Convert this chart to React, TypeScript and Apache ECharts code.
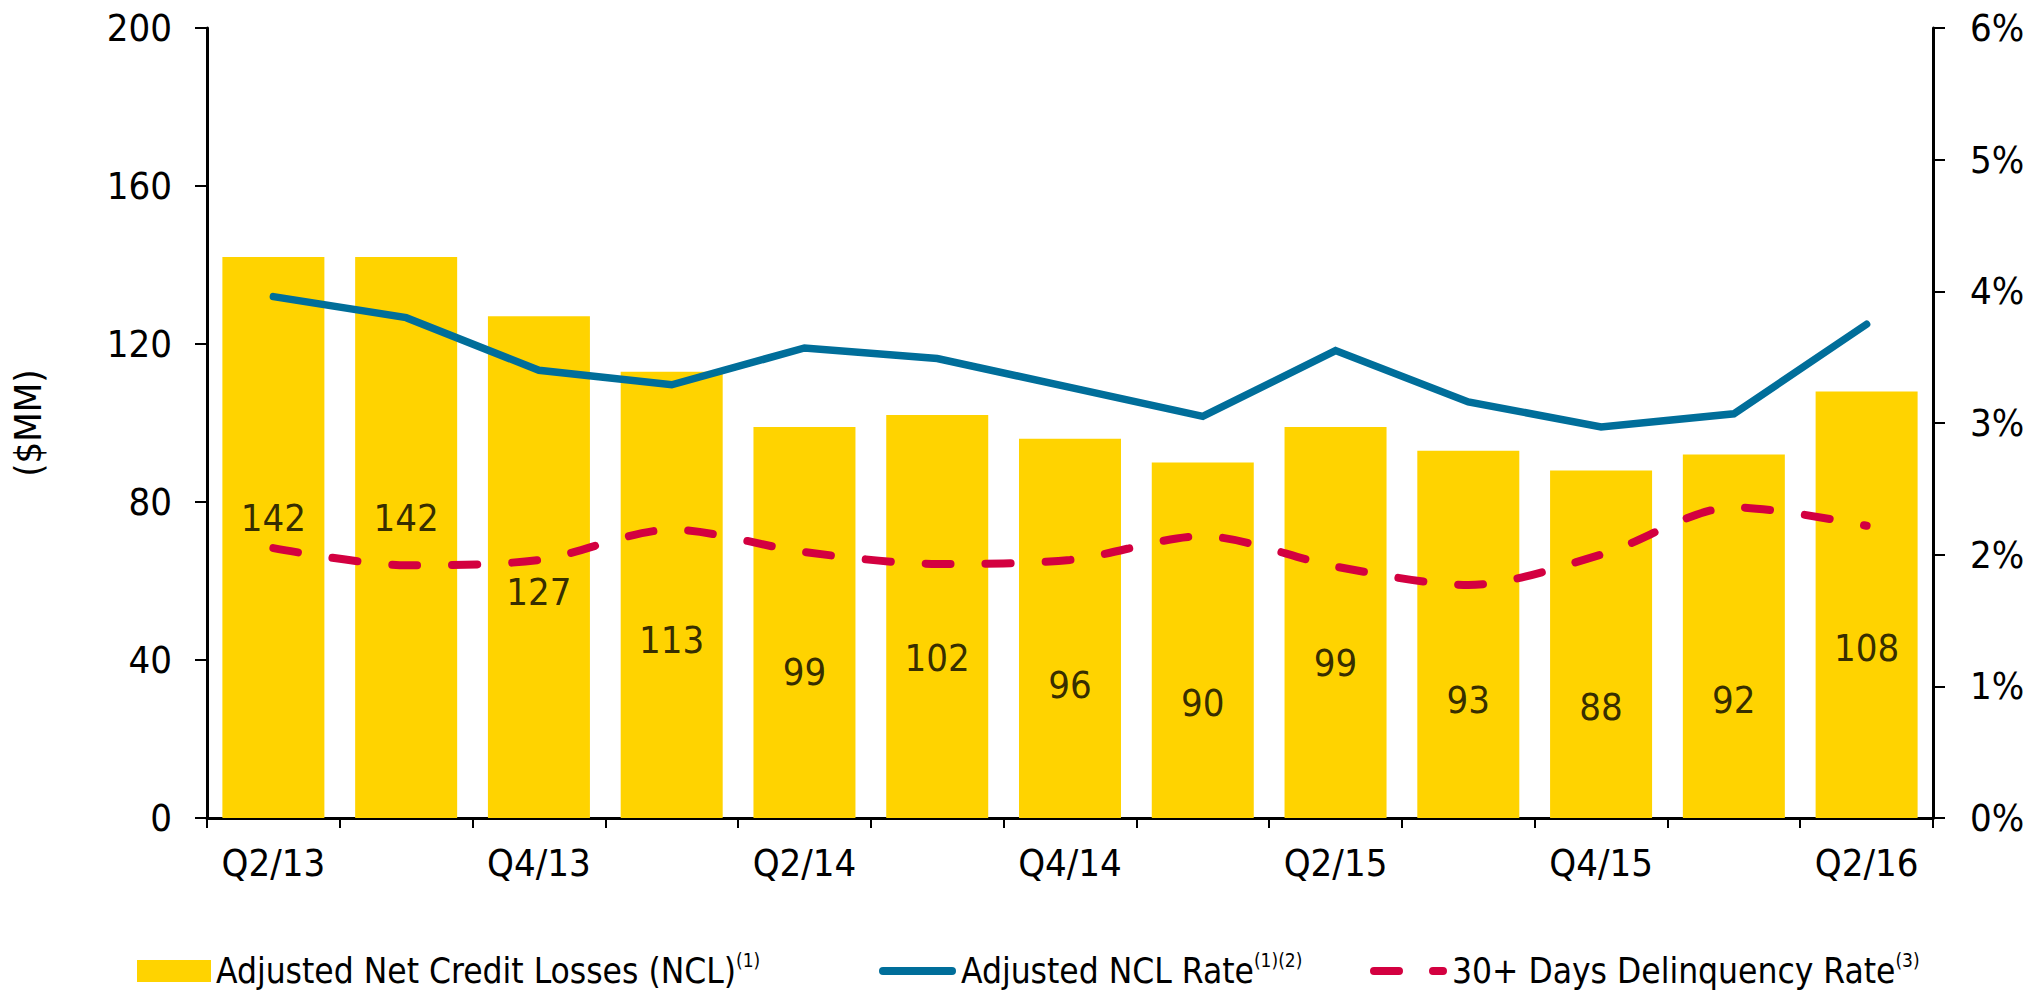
import React, { useEffect, useRef } from "react";
import * as echarts from "echarts";

const categories = ["Q2/13", "Q3/13", "Q4/13", "Q1/14", "Q2/14", "Q3/14", "Q4/14", "Q1/15", "Q2/15", "Q3/15", "Q4/15", "Q1/16", "Q2/16"];
const nclValues = [142, 142, 127, 113, 99, 102, 96, 90, 99, 93, 88, 92, 108];
const nclRate = [3.96, 3.8, 3.4, 3.29, 3.57, 3.49, 3.27, 3.05, 3.55, 3.16, 2.97, 3.07, 3.75];
const delinquencyRate = [2.05, 1.92, 1.96, 2.19, 2.02, 1.93, 1.96, 2.14, 1.91, 1.77, 2.0, 2.36, 2.22];
// value-axis height at which each bar's value label sits
const labelAnchors = [75.9, 75.9, 57.3, 45.1, 37.0, 40.4, 33.7, 29.0, 39.2, 29.9, 28.2, 29.9, 43.0];
const leftTicks = { min: 0, max: 200, interval: 40 };
const rightTicks = { min: 0, max: 6, interval: 1 };

const NAME_NCL = "Adjusted Net Credit Losses (NCL)";
const NAME_RATE = "Adjusted NCL Rate";
const NAME_DELQ = "30+ Days Delinquency Rate";

const FONT = "'DejaVu Sans Condensed', 'DejaVu Sans', sans-serif";
const YELLOW = "#FFD300";
const BLUE = "#006E9A";
const RED = "#D30040";

const ICON_SOLID = "path://M4,0 H73 A4,4 0 0 1 73,8 H4 A4,4 0 0 1 4,0 Z";
const ICON_DASHED = "path://M4,0 H29 A4,4 0 0 1 29,8 H4 A4,4 0 0 1 4,0 Z M63,0 H73 A4,4 0 0 1 73,8 H63 A4,4 0 0 1 63,0 Z";

const rich = {
  m: { fontSize: 35, fontFamily: FONT, color: "#000", lineHeight: 42, verticalAlign: "middle" },
  s: { fontSize: 19, fontFamily: FONT, color: "#000", lineHeight: 20, verticalAlign: "top" },
};

export default function App() {
  const ref = useRef<HTMLDivElement>(null);
  useEffect(() => {
    if (!ref.current) return;
    const chart = echarts.init(ref.current, null, { renderer: "svg" });
    const axisLine = { show: true, lineStyle: { color: "#000", width: 3 } };
    const option = {
      animation: false,
      backgroundColor: "#fff",
      grid: { left: 207, right: 101, top: 28, bottom: 177, containLabel: false },
      legend: [
        {
          data: [{ name: NAME_NCL, icon: "rect" }], left: 132, top: 945, itemWidth: 74, itemHeight: 22,
          formatter: (n: string) => `{m|${n}}{s|(1)}`, textStyle: { rich },
        },
        {
          data: [{ name: NAME_RATE, icon: ICON_SOLID }], left: 874, top: 945, itemWidth: 77, itemHeight: 8,
          formatter: (n: string) => `{m|${n}}{s|(1)(2)}`, textStyle: { rich },
        },
        {
          data: [{ name: NAME_DELQ, icon: ICON_DASHED }], left: 1365, top: 945, itemWidth: 77, itemHeight: 8,
          formatter: (n: string) => `{m|${n}}{s|(3)}`, textStyle: { rich },
        },
      ],
      xAxis: {
        type: "category",
        data: categories,
        boundaryGap: true,
        axisLine,
        axisTick: { show: true, interval: 0, length: 10, lineStyle: { color: "#000", width: 2 } },
        axisLabel: { interval: 1, margin: 26, fontSize: 38, fontFamily: FONT, color: "#000" },
        splitLine: { show: false },
      },
      yAxis: [
        {
          type: "value",
          ...leftTicks,
          name: "($MM)",
          nameLocation: "middle",
          nameRotate: 90,
          nameGap: 160,
          nameTextStyle: { fontSize: 38, fontFamily: FONT, color: "#000" },
          axisLine,
          axisTick: { show: true, length: 12, lineStyle: { color: "#000", width: 2 } },
          axisLabel: { margin: 35, fontSize: 38, fontFamily: FONT, color: "#000" },
          splitLine: { show: false },
        },
        {
          type: "value",
          ...rightTicks,
          position: "right",
          axisLine,
          axisTick: { show: true, length: 12, lineStyle: { color: "#000", width: 2 } },
          axisLabel: { margin: 37, fontSize: 38, fontFamily: FONT, color: "#000", formatter: "{value}%" },
          splitLine: { show: false },
        },
      ],
      series: [
        {
          name: NAME_NCL,
          type: "bar",
          data: nclValues,
          barWidth: 102,
          itemStyle: { color: YELLOW },
          z: 1,
        },
        {
          name: NAME_RATE,
          type: "line",
          yAxisIndex: 1,
          data: nclRate,
          symbol: "none",
          lineStyle: { color: BLUE, width: 7.5, cap: "round", join: "miter" },
          itemStyle: { color: BLUE },
          z: 3,
        },
        {
          name: NAME_DELQ,
          type: "line",
          yAxisIndex: 1,
          data: delinquencyRate,
          symbol: "none",
          smooth: 0.3,
          lineStyle: { color: RED, width: 8, type: [25, 35], cap: "round" },
          itemStyle: { color: RED },
          z: 3,
        },
        {
          name: "labels",
          type: "scatter",
          yAxisIndex: 0,
          data: labelAnchors,
          symbolSize: 1,
          silent: true,
          itemStyle: { color: "rgba(0,0,0,0)" },
          label: {
            show: true,
            position: "inside",
            formatter: (p: any) => String(nclValues[p.dataIndex]),
            fontSize: 38,
            fontFamily: FONT,
            color: "#000",
          },
          z: 4,
        },
      ],
    };
    chart.setOption(option as any);
    return () => chart.dispose();
  }, []);
  return (
    <div
      ref={ref}
      style={{ position: "fixed", left: 0, top: 0, width: 2034, height: 995, background: "#fff" }}
    />
  );
}
